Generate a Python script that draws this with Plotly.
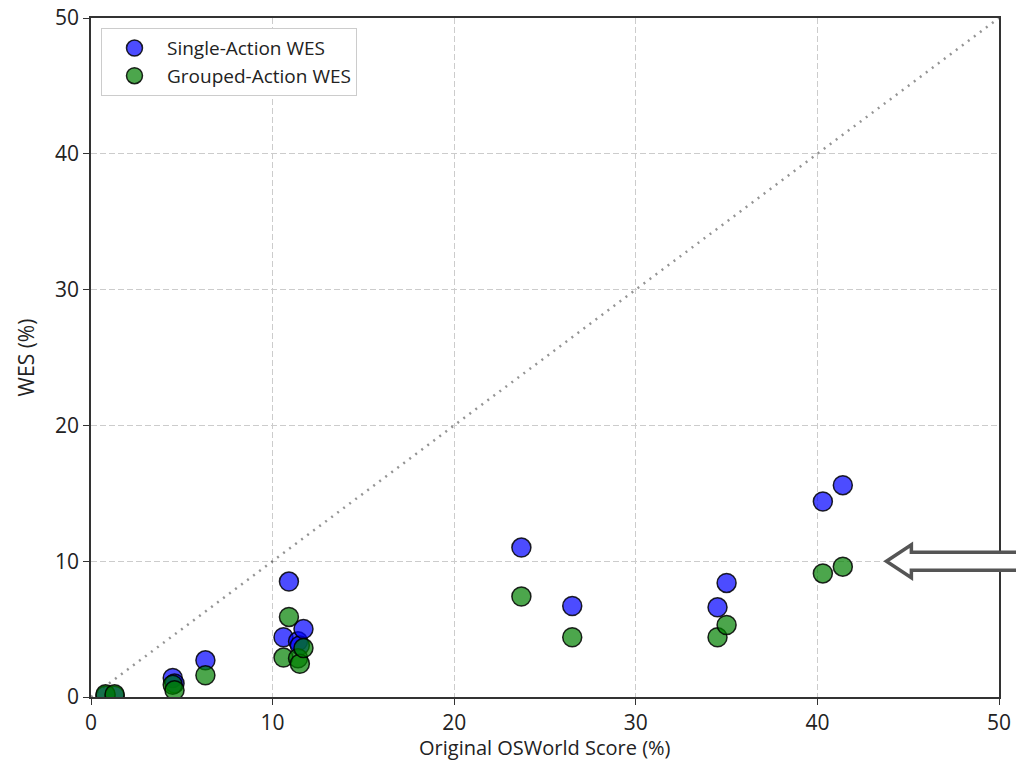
import plotly.graph_objects as go

# Data
original_score = [0.8, 1.3, 4.5, 4.6, 6.3, 10.6, 10.9, 11.4, 11.5, 11.7, 23.7, 26.5, 34.5, 35.0, 40.3, 41.4]
single_wes = [0.1, 0.1, 1.4, 1.0, 2.7, 4.4, 8.5, 4.1, 3.8, 5.0, 11.0, 6.7, 6.6, 8.4, 14.4, 15.6]
grouped_wes = [0.2, 0.2, 0.9, 0.5, 1.6, 2.9, 5.9, 2.85, 2.45, 3.6, 7.4, 4.4, 4.4, 5.3, 9.1, 9.6]
diag = [0, 50]
x_ticks = [0, 10, 20, 30, 40, 50]
y_ticks = [0, 10, 20, 30, 40, 50]
arrow_target = (43.8, 10.0)
x_title = "Original OSWorld Score (%)"
y_title = "WES (%)"

AX_RANGE = (0, 50)
FONT = "Open Sans"

fig = go.Figure()
fig.add_trace(go.Scatter(x=diag, y=diag, mode="lines", showlegend=False,
                         line=dict(color="rgba(0,0,0,0.42)", width=2.5, dash="2px,5.5px"),
                         hoverinfo="skip"))
fig.add_trace(go.Scatter(x=original_score, y=single_wes, mode="markers", name="Single-Action WES",
                         marker=dict(size=19, color="rgba(0,0,255,0.7)",
                                     line=dict(color="rgba(0,0,0,0.85)", width=1.5))))
fig.add_trace(go.Scatter(x=original_score, y=grouped_wes, mode="markers", name="Grouped-Action WES",
                         marker=dict(size=19, color="rgba(0,128,0,0.7)",
                                     line=dict(color="rgba(0,0,0,0.85)", width=1.5))))

# hollow arrow pointing to the target, in paper coordinates
def to_paper(v):
    return (v - AX_RANGE[0]) / (AX_RANGE[1] - AX_RANGE[0])

tip_x = to_paper(arrow_target[0])
tip_y = to_paper(arrow_target[1])
head_len = 0.0275
head_half = 0.0243
shaft_half = 0.0132
right_end = 1.03
path = (f"M {tip_x},{tip_y} L {tip_x+head_len},{tip_y+head_half} L {tip_x+head_len},{tip_y+shaft_half} "
        f"L {right_end},{tip_y+shaft_half} L {right_end},{tip_y-shaft_half} "
        f"L {tip_x+head_len},{tip_y-shaft_half} L {tip_x+head_len},{tip_y-head_half} Z")
fig.add_shape(type="path", path=path, xref="paper", yref="paper",
              fillcolor="white", line=dict(color="#555555", width=3.5), layer="above")

axis_common = dict(range=[0, 50], showgrid=True, gridcolor="#cccccc", griddash="6px,3px", gridwidth=1,
                   showline=True, linecolor="#333333", linewidth=1.5, mirror=True,
                   ticks="outside", ticklen=6, tickcolor="#333333", tickwidth=1.2,
                   zeroline=False, automargin=False,
                   tickfont=dict(size=21, color="#222222"),
                   title_font=dict(size=21, color="#222222"))

fig.update_xaxes(**axis_common, tickvals=x_ticks)
fig.update_yaxes(**axis_common, tickvals=y_ticks, title_text=y_title)

# x-axis title as annotation placed just below the tick labels
fig.add_annotation(text=x_title, xref="paper", yref="paper", x=0.5, y=-0.0751,
                   xanchor="center", yanchor="middle", showarrow=False,
                   font=dict(size=20, color="#222222"))

fig.update_layout(
    width=1016, height=764,
    margin=dict(l=91, r=17, t=18, b=67),
    plot_bgcolor="white", paper_bgcolor="white",
    font=dict(family=FONT, color="#222222"),
    legend=dict(x=0.011, y=0.985, xanchor="left", yanchor="top",
                bgcolor="white", bordercolor="#cccccc", borderwidth=1,
                font=dict(size=19, color="#222222"), itemwidth=55,
                tracegroupgap=2),
)

fig.write_html("out.html")
